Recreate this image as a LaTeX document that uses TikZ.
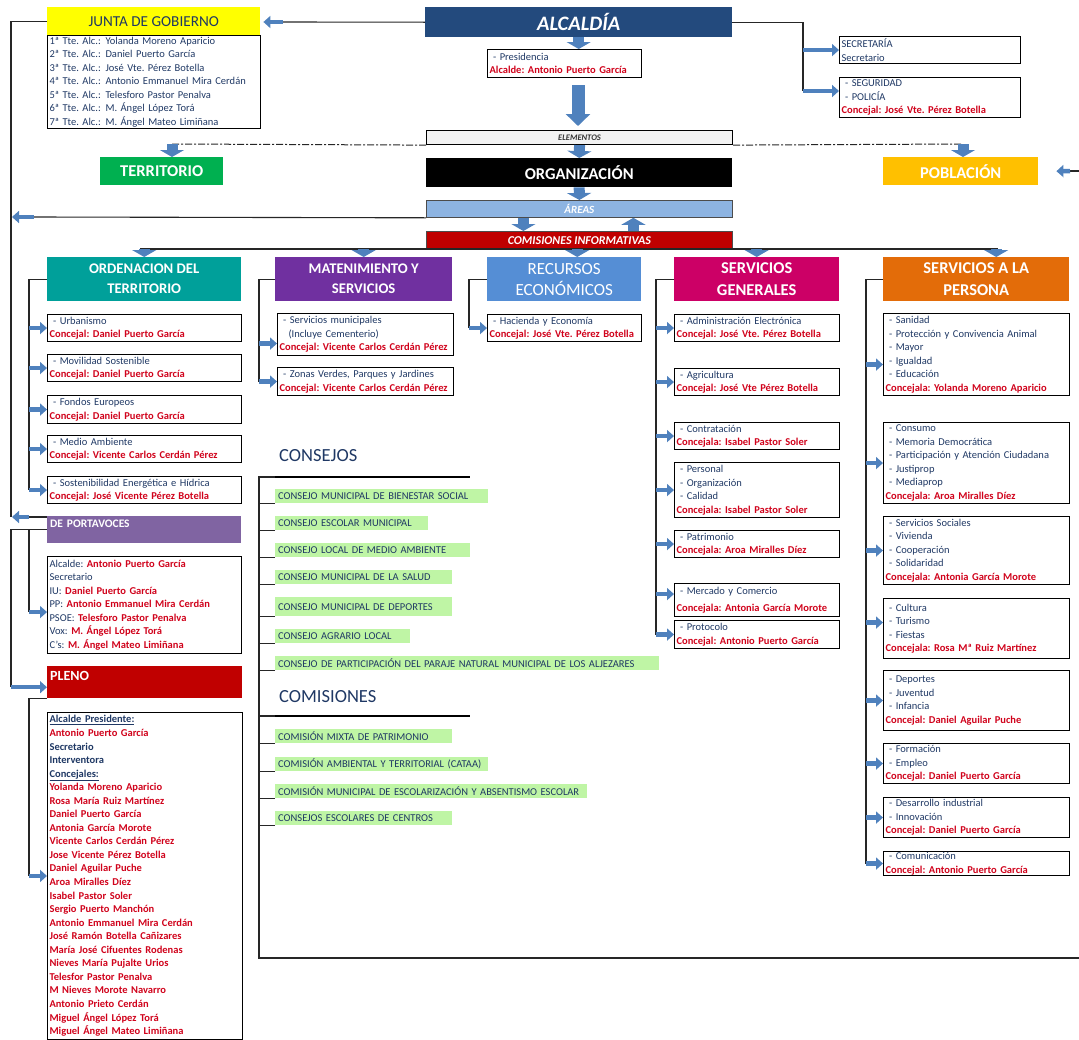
\documentclass[tikz,border=0pt]{standalone}
\usepackage{fontspec}
\setmainfont{Carlito}
\usepackage{tikz}
\usetikzlibrary{arrows.meta}
\frenchspacing

\definecolor{navy}{HTML}{1F3864}
\definecolor{cjred}{HTML}{D0021B}
\definecolor{arrowblue}{HTML}{4F81BD}
\definecolor{alcblue}{HTML}{234A7D}
\definecolor{juntayellow}{HTML}{FFFF00}
\definecolor{terrgreen}{HTML}{00B050}
\definecolor{poblorange}{HTML}{FFC000}
\definecolor{areasblue}{HTML}{8DB4E2}
\definecolor{comisred}{HTML}{C00000}
\definecolor{ordteal}{HTML}{00A09A}
\definecolor{matpurple}{HTML}{7030A0}
\definecolor{recblue}{HTML}{558ED5}
\definecolor{sgmagenta}{HTML}{CC0066}
\definecolor{sporange}{HTML}{E36C09}
\definecolor{portpurple}{HTML}{8064A2}
\definecolor{consgreen}{HTML}{BFF5A5}

\newcommand{\fsm}{\fontsize{10.5}{13.5}\selectfont}
\newcommand{\cj}[1]{\textcolor{cjred}{\bfseries #1}}

\tikzset{
	conn/.style={line width=1.1pt, draw=black!85},
	dashdot/.style={line width=1pt, draw=black!85, dash pattern=on 7pt off 2pt on 2pt off 2pt},
	blk/.style={line width=4.5pt, draw=arrowblue, -{Triangle[width=12pt,length=7pt]}},
	squat/.style={line width=11pt, draw=arrowblue, -{Triangle[width=24pt,length=7pt]}},
	bigblk/.style={line width=13pt, draw=arrowblue, -{Triangle[width=24pt,length=12pt]}},
	item/.style={draw, line width=1.1pt, anchor=north west, align=left, inner xsep=2pt, inner ysep=0pt, font=\fsm, text=navy},
	ordbox/.style={item, text width=190pt},
	matbox/.style={item, text width=172pt},
	recbox/.style={item, text width=150pt},
	sgbox/.style={item, text width=161pt},
	spbox/.style={item, text width=182pt},
	hdr/.style={anchor=north west, minimum height=44pt, inner sep=0pt, text=white, align=center, font=\bfseries\fontsize{14.7}{20}\selectfont},
	bar/.style={anchor=north west, inner sep=0pt, text=white},
	elembar/.style={bar, minimum width=306pt, font=\bfseries\fontsize{16.5}{20}\selectfont},
	cons/.style={anchor=north west, fill=consgreen, minimum height=14pt, inner xsep=3pt, inner ysep=0pt, align=left, font=\fsm, text=navy},
	heading/.style={anchor=west, inner sep=0pt, text=navy, font=\fontsize{18.5}{22}\selectfont}
}

\begin{document}
\begin{tikzpicture}[x=1pt,y=-1pt]
	\useasboundingbox (0,0) rectangle (1079,1039);

	\node[bar, fill=juntayellow, minimum width=213pt, minimum height=28pt, text=navy, font=\fontsize{15.2}{18}\selectfont] (junta) at (47,7) {JUNTA DE GOBIERNO};
	\node[item, text width=209pt, minimum height=93pt] (juntalist) at (47,35) {%
		\makebox[56pt][l]{1ª Tte. Alc.:}Yolanda Moreno Aparicio\\
		\makebox[56pt][l]{2ª Tte. Alc.:}Daniel Puerto García\\
		\makebox[56pt][l]{3ª Tte. Alc.:}José Vte. Pérez Botella\\
		\makebox[56pt][l]{4ª Tte. Alc.:}Antonio Emmanuel Mira Cerdán\\
		\makebox[56pt][l]{5ª Tte. Alc.:}Telesforo Pastor Penalva\\
		\makebox[56pt][l]{6ª Tte. Alc.:}M. Ángel López Torá\\
		\makebox[56pt][l]{7ª Tte. Alc.:}M. Ángel Mateo Limiñana};

	\node[bar, fill=alcblue, minimum width=307pt, minimum height=30pt, font=\bfseries\itshape\fontsize{20.5}{24}\selectfont] (alcaldia) at (425,7) {ALCALDÍA};
	\node[item, text width=150pt, minimum height=28pt] (presid) at (487,49) {\ - Presidencia\\\cj{Alcalde: Antonio Puerto García}};
	\node[item, text width=177pt, minimum height=27pt] (secr) at (839,36) {SECRETARÍA\\Secretario};
	\node[item, text width=177pt, minimum height=40pt] (segur) at (839,77) {\ - SEGURIDAD\\\ - POLICÍA\\\cj{Concejal: José Vte. Pérez Botella}};

	\node[item, fill=black!5, text width=302pt, minimum height=14pt, align=center, text=black!80, font=\bfseries\itshape\fontsize{8.5}{10}\selectfont] (elem) at (426,130) {ELEMENTOS};
	\node[bar, fill=terrgreen, minimum width=123pt, minimum height=28pt, font=\bfseries\fontsize{16.5}{20}\selectfont] (territ) at (100,157) {TERRITORIO};
	\node[elembar, fill=black, minimum height=29pt] (org) at (426,158) {ORGANIZACIÓN};
	\node[bar, fill=poblorange, minimum width=155pt, minimum height=28pt, font=\bfseries\fontsize{16.5}{20}\selectfont] (pobl) at (883,157) {POBLACIÓN};
	\node[elembar, fill=areasblue, draw=black!70, line width=0.8pt, minimum height=17pt, font=\bfseries\itshape\fontsize{11}{13}\selectfont] (areas) at (426,200) {ÁREAS};
	\node[elembar, fill=comisred, draw=black!70, line width=0.8pt, minimum height=18pt, font=\bfseries\itshape\fontsize{12}{14}\selectfont] (comis) at (426,231) {COMISIONES INFORMATIVAS};

	\node[hdr, fill=ordteal, minimum width=194pt] (ord) at (47,257) {ORDENACION DEL\\TERRITORIO};
	\node[hdr, fill=matpurple, minimum width=177pt] (mat) at (275,257) {MATENIMIENTO Y\\SERVICIOS};
	\node[hdr, fill=recblue, minimum width=154pt, font=\fontsize{17}{21}\selectfont] (rec) at (487,257) {RECURSOS\\ECONÓMICOS};
	\node[hdr, fill=sgmagenta, minimum width=165pt, font=\bfseries\fontsize{16.5}{22}\selectfont] (sg) at (674,257) {SERVICIOS\\GENERALES};
	\node[hdr, fill=sporange, minimum width=186pt, font=\bfseries\fontsize{16.5}{22}\selectfont] (sp) at (883,257) {SERVICIOS A LA\\PERSONA};

	\node[ordbox, minimum height=27pt] (ord1) at (47,314) {\ - Urbanismo\\\cj{Concejal: Daniel Puerto García}};
	\node[ordbox, minimum height=27pt] (ord2) at (47,354) {\ - Movilidad Sostenible\\\cj{Concejal: Daniel Puerto García}};
	\node[ordbox, minimum height=28pt] (ord3) at (47,395) {\ - Fondos Europeos\\\cj{Concejal: Daniel Puerto García}};
	\node[ordbox, minimum height=27pt] (ord4) at (47,435) {\ - Medio Ambiente\\\cj{Concejal: Vicente Carlos Cerdán Pérez}};
	\node[ordbox, minimum height=27pt] (ord5) at (47,476) {\ - Sostenibilidad Energética e Hídrica\\\cj{Concejal: José Vicente Pérez Botella}};

	\node[matbox, minimum height=42pt] (mat1) at (277,313) {\ - Servicios municipales\\\hspace*{9pt}(Incluye Cementerio)\\\cj{Concejal: Vicente Carlos Cerdán Pérez}};
	\node[matbox, minimum height=28pt] (mat2) at (277,367) {\ - Zonas Verdes, Parques y Jardines\\\cj{Concejal: Vicente Carlos Cerdán Pérez}};

	\node[recbox, minimum height=27pt] (rec1) at (487,314) {\ - Hacienda y Economía\\\cj{Concejal: José Vte. Pérez Botella}};

	\node[sgbox, minimum height=27pt] (sg1) at (674,314) {\ - Administración Electrónica\\\cj{Concejal: José Vte. Pérez Botella}};
	\node[sgbox, minimum height=27pt] (sg2) at (674,368) {\ - Agricultura\\\cj{Concejal: José Vte Pérez Botella}};
	\node[sgbox, minimum height=27pt] (sg3) at (674,422) {\ - Contratación\\\cj{Concejala: Isabel Pastor Soler}};
	\node[sgbox, minimum height=55pt] (sg4) at (674,462) {\ - Personal\\\ - Organización\\\ - Calidad\\\cj{Concejala: Isabel Pastor Soler}};
	\node[sgbox, minimum height=27pt] (sg5) at (674,530) {\ - Patrimonio\\\cj{Concejala: Aroa Miralles Díez}};
	\node[sgbox, minimum height=33pt] (sg6) at (674,583) {\ - Mercado y Comercio\\[3pt]\cj{Concejala: Antonia García Morote}};
	\node[sgbox, minimum height=28pt] (sg7) at (674,620) {\ - Protocolo\\\cj{Concejal: Antonio Puerto García}};

	\node[spbox, minimum height=82pt] (sp1) at (883,313) {\ - Sanidad\\\ - Protección y Convivencia Animal\\\ - Mayor\\\ - Igualdad\\\ - Educación\\\cj{Concejala: Yolanda Moreno Aparicio}};
	\node[spbox, minimum height=81pt] (sp2) at (883,422) {\ - Consumo\\\ - Memoria Democrática\\\ - Participación y Atención Ciudadana\\\ - Justiprop\\\ - Mediaprop\\\cj{Concejala: Aroa Miralles Díez}};
	\node[spbox, minimum height=68pt] (sp3) at (883,516) {\ - Servicios Sociales\\\ - Vivienda\\\ - Cooperación\\\ - Solidaridad\\\cj{Concejala: Antonia García Morote}};
	\node[spbox, minimum height=60pt] (sp4) at (883,598) {\ - Cultura\\\ - Turismo\\\ - Fiestas\\\cj{Concejala: Rosa Mª Ruiz Martínez}};
	\node[spbox, minimum height=60pt] (sp5) at (883,670) {\ - Deportes\\\ - Juventud\\\ - Infancia\\\cj{Concejal: Daniel Aguilar Puche}};
	\node[spbox, minimum height=40pt] (sp6) at (883,743) {\ - Formación\\\ - Empleo\\\cj{Concejal: Daniel Puerto García}};
	\node[spbox, minimum height=40pt] (sp7) at (883,797) {\ - Desarrollo industrial\\\ - Innovación\\\cj{Concejal: Daniel Puerto García}};
	\node[spbox, minimum height=24pt] (sp8) at (883,851) {\ - Comunicación\\\cj{Concejal: Antonio Puerto García}};

	\node[heading] (consejos) at (279,456) {CONSEJOS};
	\node[cons, text width=207pt] (cons1) at (275,489) {CONSEJO MUNICIPAL DE BIENESTAR SOCIAL};
	\node[cons, text width=147pt] (cons2) at (275,516) {CONSEJO ESCOLAR MUNICIPAL};
	\node[cons, text width=189pt] (cons3) at (275,543) {CONSEJO LOCAL DE MEDIO AMBIENTE};
	\node[cons, text width=171pt] (cons4) at (275,570) {CONSEJO MUNICIPAL DE LA SALUD};
	\node[cons, text width=171pt, minimum height=19pt] (cons5) at (275,597) {CONSEJO MUNICIPAL DE DEPORTES};
	\node[cons, text width=129pt] (cons6) at (275,629) {CONSEJO AGRARIO LOCAL};
	\node[cons, text width=378pt] (cons7) at (275,656) {CONSEJO DE PARTICIPACIÓN DEL PARAJE NATURAL MUNICIPAL DE LOS ALJEZARES};
	\node[heading] (comisiones) at (279,697) {COMISIONES};
	\node[cons, text width=171pt] (com1) at (275,729) {COMISIÓN MIXTA DE PATRIMONIO};
	\node[cons, text width=207pt] (com2) at (275,757) {COMISIÓN AMBIENTAL Y TERRITORIAL (CATAA)};
	\node[cons, text width=306pt] (com3) at (275,784) {COMISIÓN MUNICIPAL DE ESCOLARIZACIÓN Y ABSENTISMO ESCOLAR};
	\node[cons, text width=171pt] (com4) at (275,811) {CONSEJOS ESCOLARES DE CENTROS};

	\node[bar, fill=portpurple, minimum width=194pt, text width=188pt, align=left, inner xsep=3pt, text height=11pt, text depth=16pt, font=\bfseries\fontsize{11.5}{13}\selectfont] (porthdr) at (47,516) {DE PORTAVOCES};
	\node[item, text width=190pt, minimum height=97pt] (portbox) at (47,556) {Alcalde: \cj{Antonio Puerto García}\\Secretario\\IU: \cj{Daniel Puerto García}\\PP: \cj{Antonio Emmanuel Mira Cerdán}\\PSOE: \cj{Telesforo Pastor Penalva}\\Vox: \cj{M. Ángel López Torá}\\C's: \cj{M. Ángel Mateo Limiñana}};
	\node[bar, fill=comisred, minimum width=195pt, text width=189pt, align=left, inner xsep=3pt, text height=14pt, text depth=18pt, font=\bfseries\fontsize{14}{16}\selectfont] (pleno) at (47,666) {PLENO};
	\node[item, text width=191pt, inner ysep=3pt, font=\bfseries\fontsize{10.5}{13.55}\selectfont] (plenolist) at (47,712) {%
		\underline{Alcalde Presidente:}\\\cj{Antonio Puerto García}\\Secretario\\Interventora\\\underline{Concejales:}\\
		\cj{Yolanda Moreno Aparicio}\\\cj{Rosa María Ruiz Martínez}\\\cj{Daniel Puerto García}\\\cj{Antonia García Morote}\\
		\cj{Vicente Carlos Cerdán Pérez}\\\cj{Jose Vicente Pérez Botella}\\\cj{Daniel Aguilar Puche}\\\cj{Aroa Miralles Díez}\\
		\cj{Isabel Pastor Soler}\\\cj{Sergio Puerto Manchón}\\\cj{Antonio Emmanuel Mira Cerdán}\\\cj{José Ramón Botella Cañizares}\\
		\cj{María José Cifuentes Rodenas}\\\cj{Nieves María Pujalte Urios}\\\cj{Telesfor Pastor Penalva}\\\cj{M Nieves Morote Navarro}\\
		\cj{Antonio Prieto Cerdán}\\\cj{Miguel Ángel López Torá}\\\cj{Miguel Ángel Mateo Limiñana}};

	\coordinate (junarr) at (283,22);
	\coordinate (rbus) at (803,91);
	\coordinate (bigtop) at (578,85);
	\coordinate (bigbot) at (578,126);
	\coordinate (tdash) at (172,144);
	\coordinate (pdash) at (963,144);
	\coordinate (pin) at (1079,171);
	\coordinate (pinarr) at (1070,171);
	\coordinate (areasl) at (12,217);
	\coordinate (areasarr) at (34,217);
	\coordinate (busl) at (140,249);
	\coordinate (busr) at (998,249);
	\coordinate (jbus) at (11,517);
	\coordinate (jarr) at (29,517);
	\coordinate (lb1) at (11,0);
	\coordinate (lb2) at (29,0);
	\coordinate (ordb) at (29,0);
	\coordinate (matb) at (259,0);
	\coordinate (recb) at (469,0);
	\coordinate (sgb) at (656,0);
	\coordinate (spb) at (866,0);
	\coordinate (consb) at (259,958);
	\coordinate (consr) at (1079,958);
	\coordinate (mat1a) at ([yshift=-9pt]mat1.west);
	\coordinate (sg6a) at ([yshift=6pt]sg6.west);
	\coordinate (sp1a) at ([yshift=-10pt]sp1.west);
	\coordinate (sp4a) at ([yshift=6pt]sp4.west);
	\coordinate (portboxa) at ([yshift=-7pt]portbox.west);
	\coordinate (plenoa) at ([yshift=-5pt]pleno.west);

	\draw[conn] (alcaldia.west) -- (junarr);
	\draw[blk] (junarr) -- ([xshift=3pt]junarr -| junta.east);
	\draw[conn] (alcaldia.east) -| (rbus);
	\draw[blk] (rbus |- secr.west) -- (secr.west);
	\draw[blk] (rbus) -- (rbus -| segur.west);
	\draw[squat] (alcaldia.south) -- (alcaldia.south |- presid.north);
	\draw[bigblk] (bigtop) -- (bigbot);
	\draw[squat] (elem.south) -- (org.north);
	\draw[squat] (org.south) -- (areas.north);
	\draw[squat] ([xshift=-56pt]areas.south) -- ([xshift=-56pt]comis.north);
	\draw[squat] ([xshift=54pt]comis.north) -- ([xshift=54pt]areas.south);

	\draw[dashdot] (elem.south west) -- (tdash);
	\draw[dashdot] (elem.south east) -- (pdash);
	\draw[squat] (tdash) -- (tdash |- territ.north);
	\draw[squat] (pdash) -- (pdash |- pobl.north);
	\draw[conn] (pin) -- (pinarr);
	\draw[blk] (pinarr) -- ([xshift=18pt]pobl.east);

	\draw[conn] (areas.south west) -- (areasarr);
	\draw[blk] (areasarr) -- (areasl);

	\draw[conn] (busl) -- (busr);
	\draw[squat] (ord.north |- busl) -- (ord.north);
	\draw[squat] (mat.north |- busl) -- (mat.north);
	\draw[squat] ([xshift=13pt]rec.north |- busl) -- ([xshift=13pt]rec.north);
	\draw[squat] (sg.north |- busl) -- (sg.north);
	\draw[squat] ([xshift=20pt]sp.north |- busl) -- ([xshift=20pt]sp.north);

	\draw[conn] (ord.west) -| (ordb |- ord5.west);
	\foreach \n in {1,...,5} \draw[blk] (ordb |- ord\n.west) -- (ord\n.west);
	\draw[conn] (mat.west) -| (matb |- mat2.west);
	\draw[blk] (matb |- mat1a) -- (mat1a);
	\draw[blk] (matb |- mat2.west) -- (mat2.west);
	\draw[conn] (rec.west) -| (recb |- rec1.west);
	\draw[blk] (recb |- rec1.west) -- (rec1.west);
	\draw[conn] (sg.west) -| (sgb |- sg7.west);
	\foreach \n in {1,2,3,4,5,7} \draw[blk] (sgb |- sg\n.west) -- (sg\n.west);
	\draw[blk] (sgb |- sg6a) -- (sg6a);
	\draw[conn] (sp.west) -| (spb |- sp8.west);
	\foreach \n in {2,3,5,6,7,8} \draw[blk] (spb |- sp\n.west) -- (sp\n.west);
	\draw[blk] (spb |- sp1a) -- (sp1a);
	\draw[blk] (spb |- sp4a) -- (sp4a);

	\draw[line width=2pt] (275,477) -- (470,477);
	\draw[line width=2pt] (275,716) -- (470,716);
	\draw[conn] (275,477) -- (consb |- 0,477) -- (consb) -- (consr);
	\draw[conn] (275,716) -- (consb |- 0,716);
	\foreach \n in {1,...,7} \draw[conn] (cons\n.south west) -- (cons\n.south west -| consb);
	\foreach \n in {1,...,4} \draw[conn] (com\n.south west) -- (com\n.south west -| consb);

	\draw[conn] (junta.west) -| (jbus);
	\draw[conn] ([yshift=-1pt]porthdr.north west) -- (jarr);
	\draw[blk] (jarr) -- ([xshift=1pt]jbus);
	\draw[conn] (porthdr.west) -| (lb1 |- plenoa);
	\draw[conn] (porthdr.west -| lb2) -- (lb2 |- portboxa);
	\draw[blk] (lb1 |- plenoa) -- (plenoa);
	\draw[blk] (lb2 |- portboxa) -- (portboxa);
	\draw[conn] (pleno.south west) -| (lb2 |- plenolist.west);
	\draw[blk] (lb2 |- plenolist.west) -- (plenolist.west);

\end{tikzpicture}
\end{document}
